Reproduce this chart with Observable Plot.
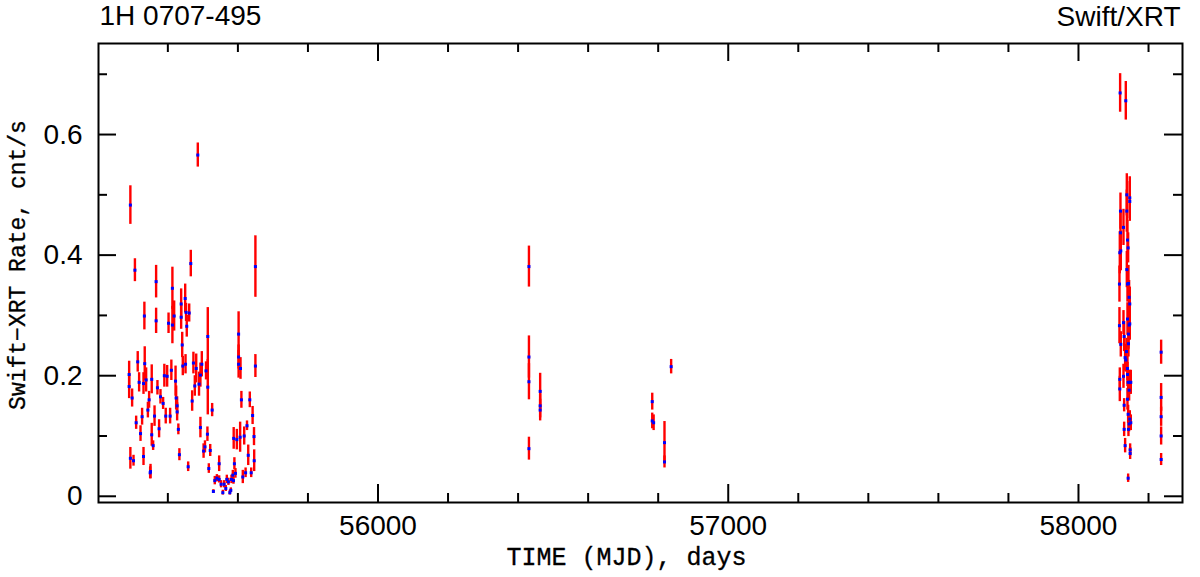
<!DOCTYPE html>
<html>
<head>
<meta charset="utf-8">
<script src="https://cdn.jsdelivr.net/npm/d3@7"></script>
<script src="https://cdn.jsdelivr.net/npm/@observablehq/plot@0.6"></script>
<style>
  html, body { margin: 0; padding: 0; background: #fff; }
</style>
</head>
<body>
<div id="chart"></div>
<script>
// ---- data ----
const mjd = [
  55485.5, 55293, 55306, 55366.5, 55366.5, 55333, 55413, 55413, 55418, 55402,
  55465.5, 55438, 55438, 55449.5, 55452, 55461, 55454, 55441, 55450.5, 55442.7,
  55514, 55514, 55526.5, 55289.5, 55289.5, 55298, 55293, 55302, 55309.5, 55314,
  55318, 55322, 55326.5, 55330.5, 55330.5, 55334, 55338, 55343, 55346.5, 55350.5,
  55349.5, 55354, 55354, 55358, 55362, 55370.3, 55375, 55379, 55386.5, 55390,
  55394, 55398, 55406.5, 55410, 55422, 55423.7, 55426.5, 55426.5, 55430, 55433,
  55458, 55469.4, 55473, 55477, 55481, 55489, 55493, 55497, 55509, 55493,
  55502, 55506, 55513, 55521, 55517, 55546.5, 55530, 55534, 55540, 55546.5,
  55552, 55557, 55560.7, 55565.5, 55568.4, 55573, 55577, 55579.8, 55581.7, 55585.5,
  55587.4, 55590, 55593, 55588, 55597, 55602, 55602, 55602, 55607.5, 55606.4,
  55610, 55614, 55618, 55622, 55626, 55629.5, 55634, 55638, 55642, 55646,
  55646.5, 55650, 55650,
  56431, 56431, 56431, 56431, 56463, 56463, 56463, 56783, 56783, 56787,
  56818, 56818, 56837,
  58118.9, 58135.1, 58138.0, 58146.5, 58146.5, 58119.9, 58138.0, 58119.9, 58128.5, 58118.0,
  58120.8, 58139.9, 58141.8, 58138.0, 58117.0, 58139.9, 58142.7, 58144.6, 58146.5, 58139.9,
  58146.5, 58144.6, 58117.0, 58128.5, 58120.8, 58142.7, 58130.4, 58133.2, 58137.0, 58135.1,
  58142.7, 58139.9, 58118.0, 58118.0, 58128.5, 58139.9, 58141.8, 58146.5, 58149.4, 58144.6,
  58139.9, 58130.4, 58141.8, 58146.5, 58149.4, 58144.6, 58130.4, 58142.7, 58133.2, 58147.5,
  58147.5, 58141.8, 58236.0, 58236.0, 58236.0, 58236.0, 58236.0
];
const rate = [
  0.566, 0.483, 0.375, 0.356, 0.291, 0.299, 0.345, 0.284, 0.299, 0.287,
  0.386, 0.319, 0.297, 0.328, 0.305, 0.304, 0.282, 0.251, 0.219, 0.216,
  0.265, 0.181, 0.143, 0.202, 0.182, 0.163, 0.063, 0.059, 0.122, 0.223,
  0.189, 0.104, 0.132, 0.066, 0.187, 0.220, 0.193, 0.143, 0.160, 0.041,
  0.039, 0.194, 0.102, 0.084, 0.133, 0.180, 0.112, 0.165, 0.154, 0.200,
  0.133, 0.199, 0.133, 0.209, 0.191, 0.163, 0.150, 0.140, 0.111, 0.069,
  0.049, 0.158, 0.221, 0.183, 0.212, 0.186, 0.201, 0.219, 0.208, 0.114,
  0.075, 0.082, 0.103, 0.076, 0.046, 0.054, 0.008, 0.026, 0.030, 0.028,
  0.020, 0.006, 0.020, 0.013, 0.028, 0.024, 0.006, 0.010, 0.028, 0.035,
  0.026, 0.054, 0.038, 0.096, 0.094, 0.269, 0.231, 0.219, 0.212, 0.098,
  0.160, 0.032, 0.100, 0.039, 0.117, 0.068, 0.160, 0.039, 0.134, 0.099,
  0.059, 0.381, 0.216,
  0.381, 0.231, 0.190, 0.079, 0.174, 0.150, 0.143, 0.157, 0.125, 0.122,
  0.089, 0.057, 0.215,
  0.669, 0.656, 0.500, 0.495, 0.489, 0.473, 0.473, 0.437, 0.446, 0.404,
  0.407, 0.425, 0.412, 0.376, 0.352, 0.352, 0.353, 0.330, 0.319, 0.294,
  0.286, 0.284, 0.283, 0.288, 0.252, 0.269, 0.265, 0.230, 0.240, 0.226,
  0.253, 0.212, 0.194, 0.178, 0.199, 0.202, 0.189, 0.189, 0.189, 0.176,
  0.161, 0.151, 0.136, 0.128, 0.122, 0.120, 0.111, 0.111, 0.084, 0.077,
  0.071, 0.030, 0.239, 0.164, 0.132, 0.100, 0.061
];
const rateErr = [
  0.020, 0.032, 0.019, 0.027, 0.021, 0.023, 0.035, 0.031, 0.025, 0.017,
  0.022, 0.025, 0.020, 0.024, 0.015, 0.015, 0.018, 0.021, 0.016, 0.016,
  0.048, 0.046, 0.011, 0.022, 0.020, 0.015, 0.018, 0.009, 0.011, 0.017,
  0.016, 0.013, 0.014, 0.015, 0.018, 0.028, 0.020, 0.013, 0.014, 0.012,
  0.010, 0.024, 0.019, 0.008, 0.017, 0.012, 0.015, 0.012, 0.010, 0.019,
  0.013, 0.018, 0.013, 0.017, 0.025, 0.020, 0.015, 0.015, 0.009, 0.010,
  0.008, 0.017, 0.018, 0.017, 0.024, 0.020, 0.020, 0.021, 0.015, 0.017,
  0.012, 0.010, 0.012, 0.010, 0.008, 0.013, 0.003, 0.007, 0.006, 0.006,
  0.006, 0.004, 0.006, 0.005, 0.007, 0.006, 0.004, 0.004, 0.007, 0.008,
  0.006, 0.010, 0.008, 0.018, 0.017, 0.037, 0.020, 0.023, 0.018, 0.025,
  0.014, 0.011, 0.015, 0.008, 0.008, 0.017, 0.013, 0.008, 0.015, 0.015,
  0.018, 0.051, 0.019,
  0.034, 0.035, 0.030, 0.019, 0.030, 0.020, 0.018, 0.014, 0.013, 0.013,
  0.035, 0.010, 0.012,
  0.032, 0.032, 0.035, 0.035, 0.033, 0.030, 0.035, 0.035, 0.030, 0.035,
  0.033, 0.033, 0.025, 0.030, 0.030, 0.030, 0.030, 0.028, 0.028, 0.027,
  0.027, 0.025, 0.030, 0.020, 0.021, 0.025, 0.025, 0.022, 0.022, 0.020,
  0.022, 0.020, 0.019, 0.021, 0.020, 0.020, 0.020, 0.020, 0.020, 0.018,
  0.018, 0.011, 0.015, 0.014, 0.013, 0.013, 0.012, 0.012, 0.012, 0.010,
  0.010, 0.007, 0.020, 0.023, 0.016, 0.015, 0.010
];

const xMajorTicks = [56000, 57000, 58000];
const xMinorTicks = [55400, 55600, 55800, 56200, 56400, 56600, 56800, 57200, 57400, 57600, 57800, 58200];
const yMajorTicks = [0, 0.2, 0.4, 0.6];
const yMinorTicks = [0.1, 0.3, 0.5, 0.7];

const sourceName = "1H 0707-495";
const instrument = "Swift/XRT";
const xLabel = "TIME (MJD), days";
const yLabel = "Swift\u2212XRT Rate, cnt/s";

// ---- layout ----
const W = 1200, H = 577;
const mL = 98, mR = 18, mT = 43, mB = 75;
const innerW = W - mL - mR, innerH = H - mT - mB;
const majorLen = 18, minorLen = 9;
const monoFont = "'Liberation Mono', 'Courier New', monospace";

const rows = mjd.map((t, i) => ({t, r: rate[i], e: rateErr[i]}));

const chart = Plot.plot({
  width: W,
  height: H,
  marginLeft: mL, marginRight: mR, marginTop: mT, marginBottom: mB,
  style: {fontFamily: "'Liberation Sans', Arial, sans-serif", background: "#fff", color: "#000"},
  x: {domain: [55202, 58297]},
  y: {domain: [-0.0103, 0.751]},
  marks: [
    // error bars
    Plot.ruleX(rows, {x: "t", y1: d => d.r - d.e, y2: d => d.r + d.e, stroke: "#ff0000", strokeWidth: 2.4}),
    // points
    Plot.dot(rows, {x: "t", y: "r", symbol: "square", r: 1.7, fill: "#0000ff", stroke: "none"}),
    // frame
    Plot.frame({stroke: "#000", strokeWidth: 2}),
    // inward ticks: bottom / top
    Plot.tickX(xMajorTicks, {x: d => d, insetTop: innerH - majorLen, stroke: "#000", strokeWidth: 2}),
    Plot.tickX(xMinorTicks, {x: d => d, insetTop: innerH - minorLen, stroke: "#000", strokeWidth: 2}),
    Plot.tickX(xMajorTicks, {x: d => d, insetBottom: innerH - majorLen, stroke: "#000", strokeWidth: 2}),
    Plot.tickX(xMinorTicks, {x: d => d, insetBottom: innerH - minorLen, stroke: "#000", strokeWidth: 2}),
    // inward ticks: left / right
    Plot.tickY(yMajorTicks, {y: d => d, insetRight: innerW - majorLen, stroke: "#000", strokeWidth: 2}),
    Plot.tickY(yMinorTicks, {y: d => d, insetRight: innerW - minorLen, stroke: "#000", strokeWidth: 2}),
    Plot.tickY(yMajorTicks, {y: d => d, insetLeft: innerW - majorLen, stroke: "#000", strokeWidth: 2}),
    Plot.tickY(yMinorTicks, {y: d => d, insetLeft: innerW - minorLen, stroke: "#000", strokeWidth: 2}),
    // tick labels
    Plot.axisX(xMajorTicks, {tickSize: 0, tickPadding: 13, fontSize: 28, tickFormat: d3.format("d"), label: null}),
    Plot.axisY(yMajorTicks, {tickSize: 0, tickPadding: 16, fontSize: 28, tickFormat: d => d3.format("")(d), label: null}),
    // titles
    Plot.text([sourceName], {text: d => d, frameAnchor: "top-left", textAnchor: "start", lineAnchor: "middle", dx: 1, dy: -27, fontSize: 28, fill: "#000"}),
    Plot.text([instrument], {text: d => d, frameAnchor: "top-right", textAnchor: "end", lineAnchor: "middle", dx: -2, dy: -26, fontSize: 28, fill: "#000"}),
    // axis labels
    Plot.text([xLabel], {text: d => d, frameAnchor: "bottom", textAnchor: "middle", lineAnchor: "middle", dx: -14, dy: 54, fontSize: 25, fontFamily: monoFont, fill: "#000", stroke: "#000", strokeWidth: 0.3}),
    Plot.text([yLabel], {text: d => d, frameAnchor: "left", textAnchor: "middle", lineAnchor: "middle", rotate: -90, dx: -81, dy: -8, fontSize: 23, fontFamily: monoFont, fill: "#000", stroke: "#000", strokeWidth: 0.3})
  ]
});
document.getElementById("chart").appendChild(chart);
</script>
</body>
</html>
